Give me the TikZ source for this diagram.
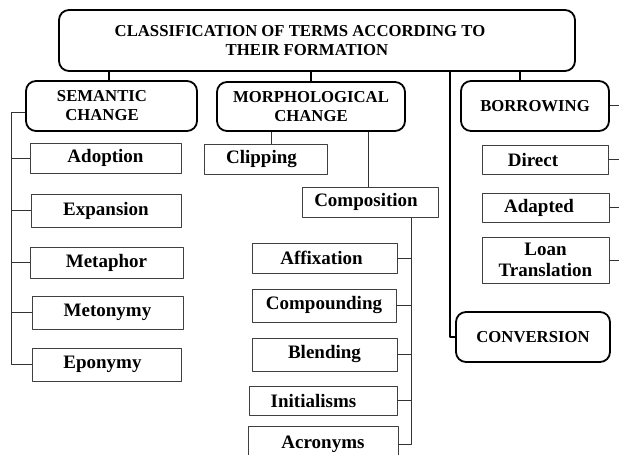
\documentclass[tikz,border=0pt]{standalone}
\usepackage{fontspec}
\setmainfont{Liberation Serif}

\begin{document}
\begin{tikzpicture}[x=1pt, y=-1pt, line join=round,
    head/.style={draw, line width=1.8pt, rounded corners=10pt, inner sep=0pt, align=center,
      font=\bfseries\fontsize{16.7}{19}\selectfont},
    leaf/.style={draw=black!75, line width=0.9pt, inner sep=0pt, align=center,
      font=\bfseries\fontsize{19}{21}\selectfont},
    link/.style={draw=black!80, line width=0.9pt},
    trunk/.style={line width=2pt}]
    \useasboundingbox (0,0) rectangle (619,455);
    \clip (0,0) rectangle (619,455);

    % top
    \node[head, minimum width=516pt, minimum height=61pt] (title) at (317,40.5)
      {CLASSIFICATION OF TERMS ACCORDING TO\kern34pt\\THEIR FORMATION\kern20pt};

    % second level
    \node[head, minimum width=171pt, minimum height=50pt] (sem) at (111.5,106)
      {SEMANTIC\kern19pt\\CHANGE\kern19pt};
    \node[head, minimum width=188pt, minimum height=49pt] (morph) at (311,106.5)
      {MORPHOLOGICAL\\CHANGE};
    \node[head, minimum width=148pt, minimum height=50pt] (borr) at (535,106) {BORROWING};
    \node[head, minimum width=154pt, minimum height=50pt] (conv) at (533,337) {CONVERSION};

    % semantic change
    \node[leaf, minimum width=151pt, minimum height=30pt] (adop) at (105.5,158) {Adoption};
    \node[leaf, minimum width=150pt, minimum height=33pt] (expa) at (106,210.5) {Expansion};
    \node[leaf, minimum width=153pt, minimum height=31pt] (meta) at (106.5,262.5) {Metaphor};
    \node[leaf, minimum width=151pt, minimum height=33pt] (meto) at (107.5,312.5) {Metonymy};
    \node[leaf, minimum width=149pt, minimum height=33pt] (epon) at (106.5,364.5) {Eponymy\kern8pt};

    % morphological change
    \node[leaf, minimum width=123pt, minimum height=30pt] (clip) at (265.5,159) {Clipping\kern8pt};
    \node[leaf, minimum width=136pt, minimum height=30pt] (comp) at (370,202) {Composition\kern8pt};
    \node[leaf, minimum width=145pt, minimum height=30pt] (affi) at (324.5,258) {Affixation\kern6pt};
    \node[leaf, minimum width=144pt, minimum height=33pt] (cpnd) at (324,305.5) {Compounding};
    \node[leaf, minimum width=145pt, minimum height=33pt] (blen) at (324.5,354.5) {Blending};
    \node[leaf, minimum width=148pt, minimum height=29pt] (init) at (323,400.5) {Initialisms\kern19pt};
    \node[leaf, minimum width=150pt, minimum height=36pt] (acro) at (323,444) {Acronyms};

    % borrowing
    \node[leaf, minimum width=126pt, minimum height=29pt] (dire) at (545,159.5) {Direct\kern24pt};
    \node[leaf, minimum width=127pt, minimum height=29pt] (adap) at (545.5,207.5) {Adapted\kern13pt};
    \node[leaf, minimum width=127pt, minimum height=46pt] (loan) at (545.5,260) {Loan\\Translation};

    % spines
    \coordinate (semL) at (11,112);
    \coordinate (compR) at (411,217);
    \coordinate (convL) at (450,71);
    \coordinate (borrR) at (619,105);

    % links from the top
    \draw[trunk] ([xshift=-3pt]sem.north) -- ([xshift=-3pt]sem.north |- title.south);
    \draw[trunk] (morph.north) -- (morph.north |- title.south);
    \draw[trunk] ([xshift=-15pt]borr.north) -- ([xshift=-15pt]borr.north |- title.south);
    \draw[line width=2.6pt] (convL) |- (conv.west);

    % semantic change links
    \draw[link] (sem.west |- semL) -- (semL) -- (semL |- epon.west) -- (epon.west);
    \foreach \n in {adop,expa,meta,meto}
      \draw[link] (\n.west) -- (\n.west -| semL);

    % morphological change links
    \draw[link] ([xshift=5.5pt]clip.north) -- ([xshift=5.5pt]clip.north |- morph.south);
    \draw[link] ([xshift=-2pt]comp.north) -- ([xshift=-2pt]comp.north |- morph.south);
    \draw[link] (compR) -- (compR |- acro.east) -- (acro.east);
    \foreach \n in {affi,cpnd,blen,init}
      \draw[link] (\n.east) -- (\n.east -| compR);

    % borrowing links
    \draw[link] (borr.east |- borrR) -- (borrR);
    \foreach \n in {dire,adap,loan}
      \draw[link] (\n.east) -- (\n.east -| borrR);
  \end{tikzpicture}
\end{document}
